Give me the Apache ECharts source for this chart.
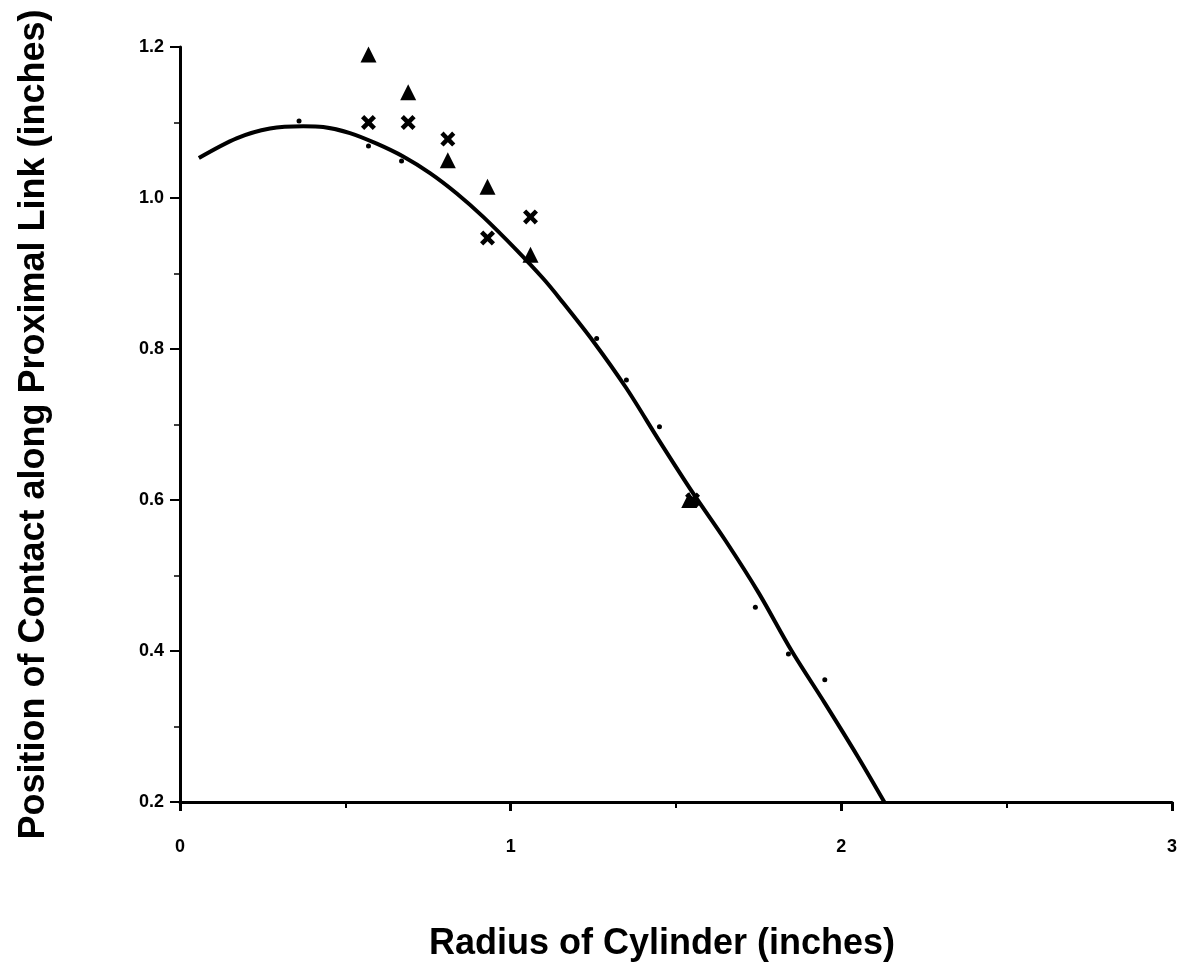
<!DOCTYPE html>
<html>
	<head>
		<meta charset="utf-8" />
		<title>Radius of Cylinder</title>
		<style type="text/css">
			body,
			html,
			#chart {
				width: 100%;
				height: 100%;
				overflow: hidden;
				margin: 0;
				background: #fff;
			}
		</style>
	</head>
	<body>
		<div id="chart"></div>
		<script src="https://cdn.jsdelivr.net/npm/echarts@6/dist/echarts.min.js"></script>
		<script>
			// 读图得到的数据
			var xTicks = [0, 1, 2, 3];
			var yTicks = [0.2, 0.4, 0.6, 0.8, 1.0, 1.2];
			// 三角形点
			var triX = [0.57, 0.69, 0.81, 0.93, 1.06, 1.54];
			var triY = [1.19, 1.14, 1.05, 1.015, 0.925, 0.60];
			// 叉号点
			var crossX = [0.57, 0.69, 0.81, 0.93, 1.06, 1.55];
			var crossY = [1.10, 1.10, 1.078, 0.947, 0.975, 0.60];
			// 小圆点
			var dotX = [0.36, 0.57, 0.67, 1.26, 1.35, 1.45, 1.74, 1.84, 1.95];
			var dotY = [1.102, 1.069, 1.049, 0.814, 0.759, 0.697, 0.458, 0.396, 0.362];
			// 拟合曲线
			var curveX = [0.057, 0.171, 0.272, 0.373, 0.433, 0.514, 0.595, 0.675, 0.756, 0.837, 0.917, 1.018, 1.099, 1.15, 1.25, 1.35, 1.45, 1.55, 1.65, 1.75, 1.85, 1.95, 2.05, 2.13];
			var curveY = [1.053, 1.079, 1.092, 1.095, 1.094, 1.086, 1.072, 1.055, 1.033, 1.006, 0.975, 0.931, 0.893, 0.866, 0.81, 0.748, 0.678, 0.61, 0.546, 0.477, 0.40, 0.331, 0.26, 0.2];

			function pairs(xs, ys) {
				return xs.map(function (x, i) {
					return [x, ys[i]];
				});
			}

			var crossPath = 'path://M0,3 L3,0 L7,4 L11,0 L14,3 L10,7 L14,11 L11,14 L7,10 L3,14 L0,11 L4,7 Z';
			var font = 'Liberation Sans, Arial, sans-serif';

			var chart = echarts.init(document.getElementById('chart'));
			var option = {
				backgroundColor: '#fff',
				animation: false,
				grid: {
					left: 180,
					right: 16,
					top: 47,
					bottom: 176
				},
				xAxis: {
					type: 'value',
					min: xTicks[0],
					max: xTicks[xTicks.length - 1],
					interval: 1,
					name: 'Radius of Cylinder (inches)',
					nameLocation: 'middle',
					nameGap: 124,
					nameTextStyle: {
						fontFamily: font,
						fontWeight: 'bold',
						fontSize: 36,
						color: '#000',
						padding: [0, 28, 0, 0]
					},
					axisLine: { lineStyle: { color: '#000', width: 3 } },
					axisTick: { length: 9, lineStyle: { color: '#000', width: 3 } },
					minorTick: { show: true, splitNumber: 2, length: 6, lineStyle: { color: '#000', width: 2 } },
					splitLine: { show: false },
					axisLabel: {
						margin: 36,
						fontFamily: font,
						fontWeight: 'bold',
						fontSize: 18,
						color: '#000'
					}
				},
				yAxis: {
					type: 'value',
					min: yTicks[0],
					max: yTicks[yTicks.length - 1],
					interval: 0.2,
					name: 'Position of Contact along Proximal Link (inches)',
					nameLocation: 'middle',
					nameGap: 128,
					nameTextStyle: {
						fontFamily: font,
						fontWeight: 'bold',
						fontSize: 36,
						color: '#000'
					},
					axisLine: { lineStyle: { color: '#000', width: 3 } },
					axisTick: { length: 10, lineStyle: { color: '#000', width: 2 } },
					minorTick: { show: true, splitNumber: 2, length: 6, lineStyle: { color: '#000', width: 1.5 } },
					splitLine: { show: false },
					axisLabel: {
						margin: 16,
						fontFamily: font,
						fontWeight: 'bold',
						fontSize: 18,
						color: '#000',
						formatter: function (v) {
							return v.toFixed(1);
						}
					}
				},
				series: [
					{
						type: 'line',
						data: pairs(curveX, curveY),
						smooth: 0.3,
						showSymbol: false,
						lineStyle: { color: '#000', width: 4 },
						z: 2
					},
					{
						type: 'scatter',
						data: pairs(dotX, dotY),
						symbol: 'circle',
						symbolSize: 5,
						itemStyle: { color: '#000', opacity: 1 },
						z: 3
					},
					{
						type: 'scatter',
						data: pairs(triX, triY),
						symbol: 'triangle',
						symbolSize: 16,
						itemStyle: { color: '#000', opacity: 1 },
						z: 4
					},
					{
						type: 'scatter',
						data: pairs(crossX, crossY),
						symbol: crossPath,
						symbolSize: 15,
						itemStyle: { color: '#000', opacity: 1 },
						z: 4
					}
				]
			};
			chart.setOption(option);
		</script>
	</body>
</html>
